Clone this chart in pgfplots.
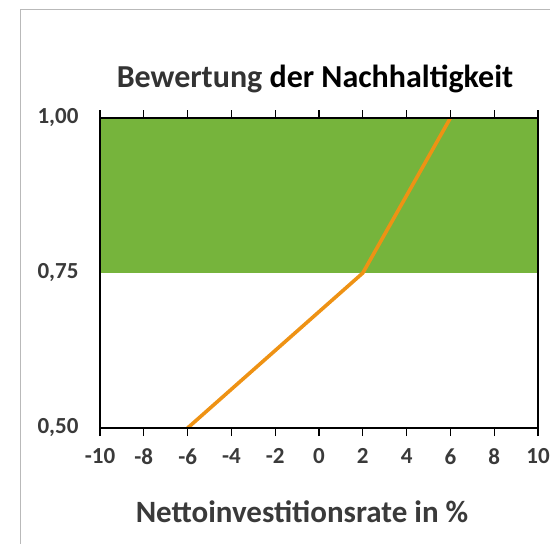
\documentclass[border=0pt]{standalone}
\usepackage{fontspec}
\setmainfont{Carlito}
\usepackage{pgfplots}
\pgfplotsset{compat=1.18}
\definecolor{zonegreen}{HTML}{76B43C}
\definecolor{lineorange}{HTML}{EE9214}
\definecolor{titlegray}{HTML}{333333}
\definecolor{labelgray}{HTML}{3A3A3A}
\begin{document}
\begin{tikzpicture}
\begin{axis}[
    scale only axis,
    width=438bp, height=310bp,
    xmin=-10, xmax=10,
    ymin=0.5, ymax=1,
    xtick={-10,-8,...,10},
    ytick={0.5,0.75,1},
    axis line style={black, line width=1.4bp},
    x tick style={black, line width=1.2bp},
    tick align=outside,
    major tick length=8bp,
    ytick style={draw=none},
    axis on top,
    /pgf/number format/assume math mode=true,
    yticklabel style={/pgf/number format/use comma, /pgf/number format/fixed,
      /pgf/number format/fixed zerofill, /pgf/number format/precision=2, xshift=-10bp},
    ticklabel style={font=\fontsize{23bp}{26bp}\selectfont\bfseries, text=labelgray},
    xticklabel style={yshift=-9bp},
]
  % gruener Bereich oberhalb von 0,75
  \addplot[draw=none, fill=zonegreen] coordinates {(-10,0.75) (10,0.75) (10,1) (-10,1)} -- cycle;
  % Bewertungskurve
  \addplot[lineorange, line width=3.6bp] coordinates {(-6,0.5) (2,0.75) (6,1)};
\end{axis}
\node[anchor=base, font=\fontsize{32bp}{36bp}\selectfont\bfseries] at (215bp,340bp)
  {\textcolor{titlegray}{Bewertung} der Nachhaltigkeit};
\node[anchor=base, font=\fontsize{31bp}{35bp}\selectfont\bfseries, text=labelgray] at (202bp,-94bp)
  {Nettoinvestitionsrate in \%};
\draw[gray!55, line width=1bp] (-79bp,-130bp) -- (-79bp,418bp) -- (470bp,418bp);
\pgfresetboundingbox
\useasboundingbox (-100bp,-116bp) rectangle (450bp,428bp);
\end{tikzpicture}
\end{document}
